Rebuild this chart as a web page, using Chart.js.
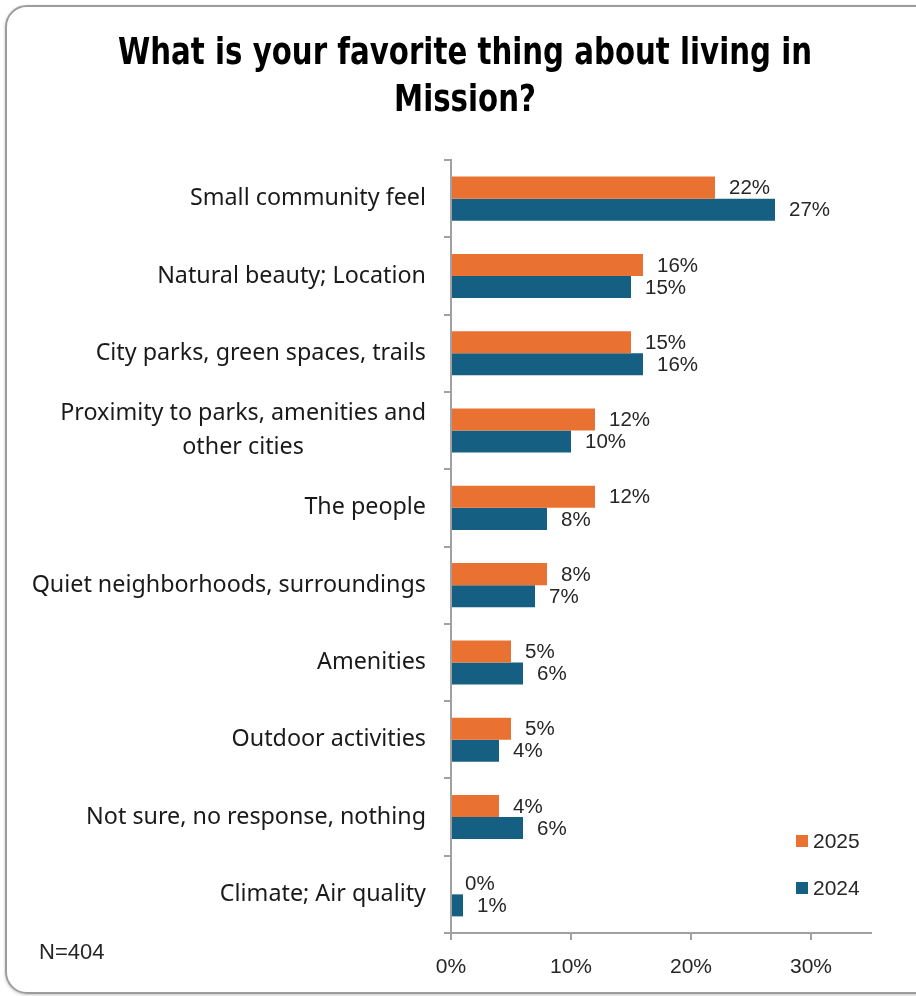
<!DOCTYPE html>
<html lang="en">
<head>
  <meta charset="UTF-8">
  <title>Favorite thing about living in Mission</title>
  <script src="https://cdn.jsdelivr.net/npm/chart.js@4.4.1/dist/chart.umd.min.js"></script>
  <style>
    html, body { margin: 0; background: #fff; overflow: hidden; }
    #card {
      position: absolute; left: 5px; top: 5px; width: 930px; height: 985px;
      border: 2px solid #9c9c9c; border-radius: 22px;
      box-shadow: 0 1px 3px rgba(0,0,0,.25);
    }
    #myChart { position: absolute; left: 0; top: 0; }
  </style>
</head>
<body>
  <div id="card"></div>
  <canvas id="myChart" width="916" height="996"></canvas>
  <script>
    const categories = [
      ['Small community feel'],
      ['Natural beauty; Location'],
      ['City parks, green spaces, trails'],
      ['Proximity to parks, amenities and', 'other cities'],
      ['The people'],
      ['Quiet neighborhoods, surroundings'],
      ['Amenities'],
      ['Outdoor activities'],
      ['Not sure, no response, nothing'],
      ['Climate; Air quality']
    ]
    const values2025 = [22, 16, 15, 12, 12, 8, 5, 5, 4, 0]
    const values2024 = [27, 15, 16, 10, 8, 7, 6, 4, 6, 1]
    const seriesNames = ['2025', '2024']
    const xTickValues = [0, 10, 20, 30]
    const titleLines = ['What is your favorite thing about living in', 'Mission?']
    const sampleNote = 'N=404'

    const colors = { orange: '#E97132', blue: '#156082', axis: '#a0a0a0', text: '#262626' }

    // title, category labels, value labels, legend and sample size
    const extras = {
      id: 'extras',
      afterDraw(chart) {
        const { ctx, scales: { y } } = chart
        ctx.save()

        // title: squeeze to the condensed width
        ctx.fillStyle = '#000'
        ctx.font = 'bold 38px "DejaVu Sans Condensed", "Liberation Sans", sans-serif'
        ctx.textAlign = 'center'
        ctx.textBaseline = 'alphabetic'
        const sx = 694 / ctx.measureText(titleLines[0]).width
        titleLines.forEach((t, i) => {
          ctx.save()
          ctx.translate(465, 64 + i * 47)
          ctx.scale(sx, 1)
          ctx.fillText(t, 0, 0)
          ctx.restore()
        })

        // category labels, right aligned block, lines centred on each other
        ctx.fillStyle = '#1a1a1a'
        ctx.font = '23.3px "Noto Sans"'
        ctx.textBaseline = 'middle'
        categories.forEach((lines, i) => {
          const yc = y.getPixelForValue(i)
          const bw = Math.max(...lines.map(l => ctx.measureText(l).width))
          const cx = 426 - bw / 2
          lines.forEach((l, j) => {
            ctx.fillText(l, cx, yc + (j - (lines.length - 1) / 2) * 34)
          })
        })

        // value labels next to each bar
        ctx.fillStyle = colors.text
        ctx.font = '20.5px "Liberation Sans"'
        ctx.textAlign = 'left'
        chart.data.datasets.forEach((ds, di) => {
          chart.getDatasetMeta(di).data.forEach((bar, i) => {
            ctx.fillText(ds.data[i] + '%', bar.x + 14, bar.y + 1)
          })
        })

        // legend
        ctx.font = '21px "Liberation Sans"'
        chart.data.datasets.forEach((ds, di) => {
          const ly = 841 + di * 47
          ctx.fillStyle = ds.backgroundColor
          ctx.fillRect(796, ly - 6, 12, 12)
          ctx.fillStyle = colors.text
          ctx.fillText(ds.label, 813, ly + 1)
        })

        ctx.font = '22px "Liberation Sans"'
        ctx.fillText(sampleNote, 39, 953)
        ctx.restore()
      }
    }

    const ctx = document.getElementById('myChart').getContext('2d')
    new Chart(ctx, {
      type: 'bar',
      data: {
        labels: categories,
        datasets: [
          { label: seriesNames[0], data: values2025, backgroundColor: colors.orange },
          { label: seriesNames[1], data: values2024, backgroundColor: colors.blue }
        ]
      },
      options: {
        indexAxis: 'y',
        responsive: false,
        animation: false,
        categoryPercentage: 0.57,
        barPercentage: 1,
        layout: { padding: { top: 160, right: 45, bottom: 0, left: 0 } },
        plugins: {
          legend: { display: false },
          title: { display: false },
          tooltip: { enabled: false }
        },
        scales: {
          x: {
            min: 0,
            max: 35,
            ticks: {
              stepSize: 10,
              padding: 15,
              color: colors.text,
              font: { family: 'Liberation Sans', size: 21 },
              callback: v => v + '%'
            },
            afterBuildTicks: s => { s.ticks = xTickValues.map(v => ({ value: v })) },
            afterFit: s => { s.height = 63 },
            grid: { drawOnChartArea: false, tickLength: 7, color: colors.axis, lineWidth: 2 },
            border: { color: colors.axis, width: 2 }
          },
          y: {
            ticks: { display: false },
            afterFit: s => { s.width = 451 },
            grid: { drawOnChartArea: false, offset: true, tickLength: 7, color: colors.axis, lineWidth: 2 },
            border: { color: colors.axis, width: 2 }
          }
        }
      },
      plugins: [extras]
    })
  </script>
</body>
</html>
